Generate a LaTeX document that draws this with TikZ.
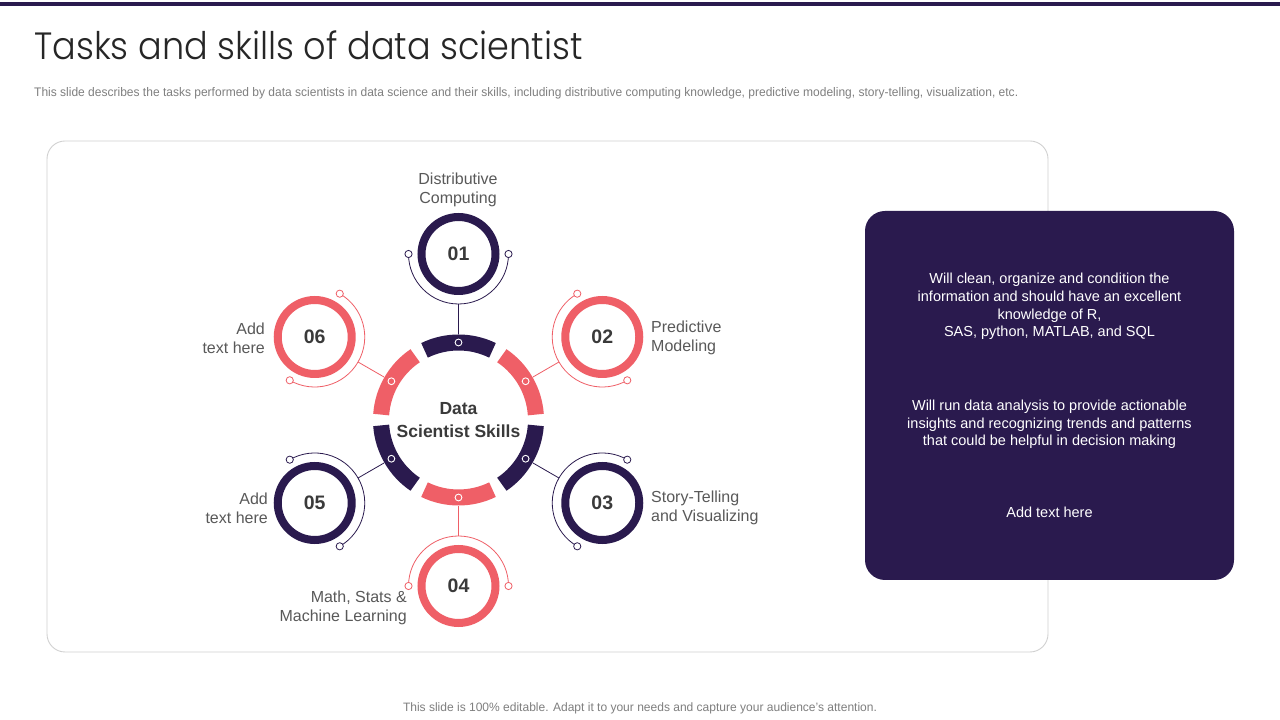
\documentclass[tikz,border=0pt]{standalone}
\usepackage{fontspec}
\setmainfont{Liberation Sans}
\newfontfamily\titlefont{Poppins Light}
\usetikzlibrary{calc}
\definecolor{navy}{HTML}{2A1A4E}
\definecolor{coral}{HTML}{EF5F67}
\definecolor{txt}{HTML}{595959}
\definecolor{numc}{HTML}{3A3A3A}
\definecolor{subc}{HTML}{7F7F7F}
\tikzset{
  lbl/.style={text=txt, font=\fontsize{16}{19}\selectfont, inner sep=0pt},
  numnode/.style={circle, line width=8pt, minimum size=74pt, inner sep=0pt, text=numc, font=\bfseries\fontsize{19.5}{22}\selectfont},
  cardtxt/.style={text=white, align=center, font=\fontsize{14.5}{17.6}\selectfont, inner sep=0pt},
  thin/.style={line width=0.8pt},
}
\begin{document}
\begin{tikzpicture}[x=1pt,y=1pt]
\useasboundingbox (0,0) rectangle (1280,720);
\fill[white] (0,0) rectangle (1280,720);
\fill[navy] (0,714) rectangle (1280,718.4);
% title and subtitle
\node[anchor=base west, inner sep=0pt, text=black!85] (title) at (34,660) {\scalebox{0.923}[1]{\titlefont\fontsize{38}{44}\selectfont Tasks and skills of data scientist}};
\node[anchor=base west, inner sep=0pt, text=subc] (sub) at (34,623.5) {\resizebox{984pt}{9pt}{\fontsize{12.5}{15}\selectfont This slide describes the tasks performed by data scientists in data science and their skills, including distributive computing knowledge, predictive modeling, story-telling, visualization, etc.}};
% panel
\draw[black!18, line width=0.9pt, rounded corners=18pt] (47,579) rectangle (1048,68);
% card
\fill[navy, rounded corners=20pt] (865,509) rectangle (1234,140);
\node[cardtxt] (c1) at (1049.5,413.5) {Will clean, organize and condition the\\information and should have an excellent\\knowledge of R,\\SAS, python, MATLAB, and SQL};
\node[cardtxt] (c2) at (1049.5,295.5) {Will run data analysis to provide actionable\\insights and recognizing trends and patterns\\that could be helpful in decision making};
\node[cardtxt] (c3) at (1049.5,208) {Add text here};
% centre
\coordinate (C) at (458.5,300);
\foreach \i/\a/\c in {1/90/navy,2/30/coral,3/-30/navy,4/-90/coral,5/-150/navy,6/150/coral}{
  \draw[\c, line width=16pt] ($(C)+(\a-26:77.5)$) arc[start angle=\a-26, end angle=\a+26, radius=77.5pt];
  \draw[white, line width=0.9pt] ($(C)+(\a:77.5)$) circle (3.4pt);
  \node[numnode, draw=\c] (n\i) at ($(C)+(\a:166)$) {0\i};
  \coordinate (a\i) at ($(n\i)+(\a+180:50)$);
  \coordinate (r\i) at ($(C)+(\a:86)$);
  \draw[\c, thin] (a\i) -- (r\i);
  \draw[\c, thin] ($(n\i)+(\a+90:50)$) arc[start angle=\a+90, end angle=\a+270, radius=50pt];
  \draw[\c, thin, fill=white] ($(n\i)+(\a+90:50)$) circle (3.6pt);
  \draw[\c, thin, fill=white] ($(n\i)+(\a-90:50)$) circle (3.6pt);
}
\node[align=center, text=numc, font=\bfseries\fontsize{17.5}{23}\selectfont] (ctr) at (C) {Data\\Scientist Skills};
% labels
\node[lbl, align=center] (l1) at (458,530) {Distributive\\Computing};
\node[lbl, align=left, anchor=west] (l2) at (651,382) {Predictive\\Modeling};
\node[lbl, align=left, anchor=west] (l3) at (651,212) {Story-Telling\\and Visualizing};
\node[lbl, align=right, anchor=east] (l4) at (407,112) {Math, Stats \&\\Machine Learning};
\node[lbl, align=right, anchor=east] (l5) at (268,212) {Add\\text here};
\node[lbl, align=right, anchor=east] (l6) at (265,382) {Add\\text here};
% footer
\node[anchor=base, inner sep=0pt, text=subc] (foot) at (640,8.5) {\resizebox{474pt}{8.8pt}{\fontsize{12}{14}\selectfont This slide is 100\% editable. Adapt it to your needs and capture your audience's attention.}};
\end{tikzpicture}
\end{document}
